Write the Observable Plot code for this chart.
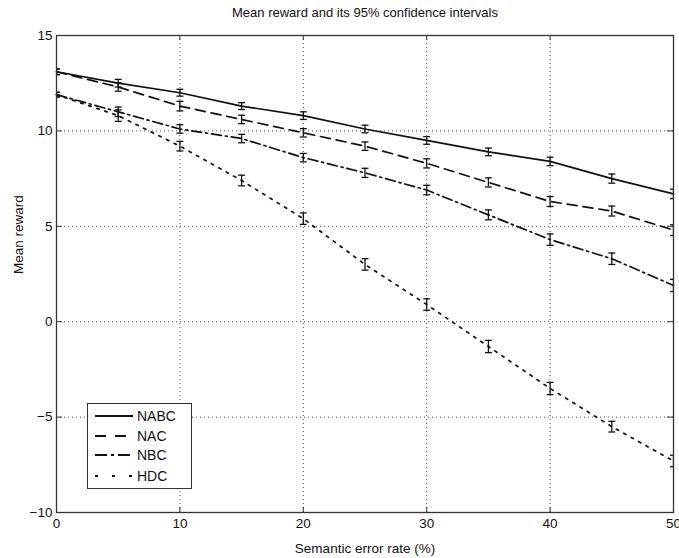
<!DOCTYPE html>
<html><head><meta charset="utf-8">
<script src="https://cdn.jsdelivr.net/npm/d3@7"></script>
<script src="https://cdn.jsdelivr.net/npm/@observablehq/plot@0.6"></script>
<style>
body{margin:0;background:#fff;font-family:"Liberation Sans",Arial,sans-serif;}
#wrap{position:relative;width:679px;height:558px;}
#legend{position:absolute;left:87px;top:403px;width:103px;height:84px;border:1px solid #333;background:#fff;box-sizing:content-box;}
#legend .row{position:absolute;left:7px;height:16px;display:flex;align-items:center;font-size:14px;color:#111;}
#legend svg{margin-right:4px;}
</style></head>
<body><div id="wrap"><div id="chart"></div><div id="legend"></div></div>
<script>
const xs = [0, 5, 10, 15, 20, 25, 30, 35, 40, 45, 50];
const names = ["NABC", "NAC", "NBC", "HDC"];
const NABC = [13.1, 12.5, 12.0, 11.3, 10.8, 10.1, 9.5, 8.9, 8.4, 7.5, 6.7];
const NAC  = [13.1, 12.3, 11.3, 10.6, 9.9, 9.2, 8.3, 7.3, 6.3, 5.8, 4.8];
const NBC  = [11.9, 11.0, 10.1, 9.6, 8.6, 7.8, 6.9, 5.6, 4.3, 3.3, 1.9];
const HDC  = [11.9, 10.8, 9.2, 7.4, 5.4, 3.0, 0.9, -1.3, -3.5, -5.5, -7.3];
const errNABC = [0.15, 0.2, 0.18, 0.18, 0.2, 0.2, 0.2, 0.2, 0.22, 0.24, 0.25];
const errNAC  = [0.15, 0.22, 0.25, 0.22, 0.22, 0.22, 0.24, 0.24, 0.26, 0.26, 0.28];
const errNBC  = [0.12, 0.25, 0.22, 0.22, 0.22, 0.24, 0.25, 0.26, 0.3, 0.3, 0.32];
const errHDC  = [0.12, 0.3, 0.25, 0.28, 0.3, 0.3, 0.3, 0.32, 0.32, 0.28, 0.3];
const xTicks = [0, 10, 20, 30, 40, 50];
const yTicks = [-10, -5, 0, 5, 10, 15];
const title = "Mean reward and its 95% confidence intervals";
const xLabel = "Semantic error rate (%)";
const yLabel = "Mean reward";

const series = {NABC, NAC, NBC, HDC};
const errs = {NABC: errNABC, NAC: errNAC, NBC: errNBC, HDC: errHDC};
const dashes = {NABC: null, NAC: "10,6", NBC: "10,4,2,4", HDC: "2.5,6"};
const rows = names.flatMap(n => xs.map((x, i) => ({name: n, x, y: series[n][i], e: errs[n][i]})));
const ink = "#111";
const capW = 0.28;

const lineMarks = names.map(n => Plot.line(rows.filter(r => r.name === n), {
  x: "x", y: "y", stroke: ink, strokeWidth: 1.7, strokeDasharray: dashes[n]
}));

const plot = Plot.plot({
  width: 679, height: 558,
  marginLeft: 56, marginRight: 6, marginTop: 35, marginBottom: 46,
  style: {fontFamily: "Liberation Sans, Arial, sans-serif", fontSize: "13px", color: ink, background: "#fff"},
  x: {domain: [0, 50]},
  y: {domain: [-10, 15]},
  marks: [
    Plot.gridX(xTicks.slice(1, -1), {stroke: "#444", strokeOpacity: 1, strokeWidth: 1, strokeDasharray: "1,3"}),
    Plot.gridY(yTicks.slice(1, -1), {stroke: "#444", strokeOpacity: 1, strokeWidth: 1, strokeDasharray: "1,3"}),
    Plot.ruleX(xTicks, {x: d => d, insetTop: 472, stroke: "#333"}),
    Plot.ruleX(xTicks, {x: d => d, insetBottom: 472, stroke: "#333"}),
    Plot.ruleY(yTicks, {y: d => d, insetRight: 611, stroke: "#333"}),
    Plot.ruleY(yTicks, {y: d => d, insetLeft: 611, stroke: "#333"}),
    ...lineMarks,
    Plot.ruleX(rows, {x: "x", y1: d => d.y - d.e, y2: d => d.y + d.e, stroke: ink, strokeWidth: 1.3, clip: true}),
    Plot.link(rows, {x1: d => d.x - capW, x2: d => d.x + capW, y1: d => d.y - d.e, y2: d => d.y - d.e, stroke: ink, strokeWidth: 1.3, clip: true}),
    Plot.link(rows, {x1: d => d.x - capW, x2: d => d.x + capW, y1: d => d.y + d.e, y2: d => d.y + d.e, stroke: ink, strokeWidth: 1.3, clip: true}),
    Plot.frame({stroke: "#333", strokeWidth: 1.3}),
    Plot.axisX(xTicks, {tickSize: 0, tickPadding: 6, label: null, fontSize: 13.5}),
    Plot.axisY(yTicks, {tickSize: 0, tickPadding: 4, label: null, fontSize: 13.5, tickFormat: d => d < 0 ? "\u2212" + (-d) : String(d)}),
    Plot.text([title], {frameAnchor: "top", dy: -23, text: d => d, fontSize: 13, lineAnchor: "middle"}),
    Plot.text([xLabel], {frameAnchor: "bottom", dy: 36, text: d => d, fontSize: 13.5, lineAnchor: "middle"}),
    Plot.text([yLabel], {frameAnchor: "left", dx: -38, rotate: -90, text: d => d, fontSize: 13.5, lineAnchor: "middle"})
  ]
});
document.getElementById("chart").appendChild(plot);

const legend = document.getElementById("legend");
const rowTops = [4, 24, 43, 64];
names.forEach((n, i) => {
  const row = document.createElement("div");
  row.className = "row";
  row.style.top = rowTops[i] + "px";
  const ns = "http://www.w3.org/2000/svg";
  const s = document.createElementNS(ns, "svg");
  s.setAttribute("width", 38); s.setAttribute("height", 10);
  const l = document.createElementNS(ns, "line");
  l.setAttribute("x1", 0); l.setAttribute("x2", 38); l.setAttribute("y1", 5); l.setAttribute("y2", 5);
  l.setAttribute("stroke", ink); l.setAttribute("stroke-width", 2);
  if (dashes[n]) l.setAttribute("stroke-dasharray", n === "HDC" ? "3,14" : n === "NAC" ? "11,9" : "12,4,3,4");
  s.appendChild(l);
  row.appendChild(s);
  row.appendChild(document.createTextNode(n));
  legend.appendChild(row);
});
</script></body></html>
